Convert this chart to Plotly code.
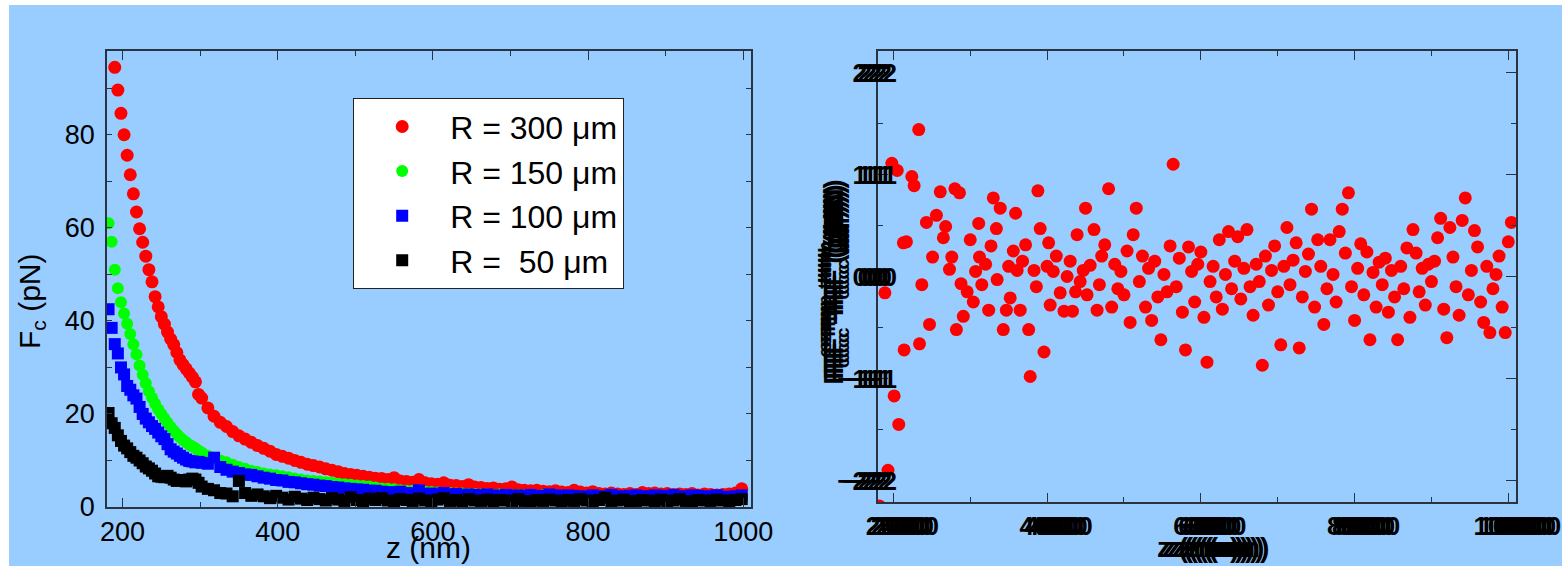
import plotly.graph_objects as go

W, H = 1562, 566
BG = "#99CCFF"
AX = "#2a3440"
FONT = "Liberation Sans, Arial, sans-serif"

# ---------------- data ----------------
Z = [182, 186, 190, 194, 198, 202, 206, 210, 214, 218, 222, 226, 230, 234, 238,
     242, 246, 250, 254, 258, 262, 266, 270, 274, 278, 282, 286, 290, 294, 298, 302,
     310, 318, 326, 334, 342, 350, 358, 366, 374, 382,
     390, 398, 406, 414, 422, 430, 438, 446, 454, 462,
     470, 478, 486, 494, 502, 510, 518, 526, 534, 542,
     550, 558, 566, 574, 582, 590, 598, 606, 614, 622,
     630, 638, 646, 654, 662, 670, 678, 686, 694, 702,
     710, 718, 726, 734, 742, 750, 758, 766, 774, 782,
     790, 798, 806, 814, 822, 830, 838, 846, 854, 862,
     870, 878, 886, 894, 902, 910, 918, 926, 934, 942,
     950, 958, 966, 974, 982, 990, 998]

F_R300 = [None, None, 94.5, 89.6, 84.6, 80.0, 75.6, 71.4, 67.3, 63.4, 59.8, 56.9, 53.9, 51.0, 48.4,
          45.2, 43.0, 40.9, 39.3, 37.6, 36.1, 34.9, 33.2, 31.6, 30.6, 29.7, 28.8, 27.9, 26.9, 24.2, 23.4,
          21.3, 19.5, 18.2, 17.3, 16.2, 15.3, 14.6, 13.9, 13.2, 12.6,
          12.0, 11.3, 10.9, 10.5, 10.0, 9.6, 9.2, 8.9, 8.6, 8.2,
          7.9, 7.6, 7.2, 7.0, 6.8, 6.6, 6.4, 6.2, 6.1, 5.9,
          6.3, 5.6, 5.5, 5.3, 5.9, 5.2, 5.0, 4.9, 5.2, 4.7,
          4.6, 4.4, 4.8, 4.3, 4.2, 4.0, 4.1, 3.8, 3.9, 4.3,
          3.7, 3.6, 3.5, 3.6, 3.4, 3.3, 3.5, 3.2, 3.1, 3.6,
          3.2, 3.0, 3.3, 2.9, 2.8, 3.0, 2.8, 2.7, 2.9, 2.7,
          3.1, 2.9, 3.0, 2.8, 2.9, 2.7, 2.8, 2.7, 2.9, 2.6,
          2.8, 2.7, 2.6, 2.7, 2.8, 3.0, 3.9]

F_R150 = [61.0, 57.0, 51.0, 47.0, 44.0, 41.6, 39.4, 37.2, 35.0, 32.8, 30.4, 28.4, 26.6, 24.9, 23.5,
          22.2, 21.0, 20.0, 19.0, 18.1, 17.2, 16.4, 15.7, 15.0, 14.4, 13.9, 13.4, 13.0, 12.6, 12.1, 11.7,
          11.0, 10.4, 10.0, 9.6, 9.1, 8.6, 8.2, 7.8, 7.5, 7.2,
          7.0, 6.8, 6.6, 6.4, 6.1, 5.9, 5.7, 5.6, 5.5, 5.3,
          5.2, 5.0, 4.9, 4.8, 4.6, 4.5, 4.4, 4.2, 4.0, 3.9,
          3.8, 3.6, 3.5, 3.5, 3.4, 3.3, 3.2, 3.1, 3.0, 3.0,
          2.9, 2.9, 2.8, 2.8, 2.7, 2.7, 2.6, 2.7, 2.6, 2.5,
          2.6, 2.5, 2.5, 2.4, 2.5, 2.4, 2.3, 2.4, 2.3, 2.3,
          2.2, 2.3, 2.2, 2.2, 2.1, 2.2, 2.1, 2.1, 2.0, 2.1,
          2.0, 2.0, 2.1, 1.9, 2.0, 1.9, 2.0, 1.9, 1.9, 1.8,
          1.9, 1.8, 1.9, 1.8, 1.8, 1.9, 1.8]

F_R100 = [42.5, 38.5, 35.0, 33.0, 30.0, 28.5, 26.0, 25.2, 24.0, 23.3, 21.5, 20.0, 19.0, 18.2, 17.4,
          16.8, 16.0, 15.2, 14.6, 13.5, 12.4, 11.9, 11.5, 11.0, 10.6, 10.2, 9.9, 9.8, 9.6, 9.7, 9.5,
          9.3, 10.6, 8.6, 8.0, 7.6, 7.3, 7.0, 6.9, 6.6, 6.3,
          6.1, 5.8, 5.7, 5.4, 5.3, 5.1, 4.9, 4.8, 4.6, 4.5,
          4.3, 4.2, 4.0, 3.9, 3.8, 3.7, 3.5, 3.5, 3.3, 3.2,
          3.1, 3.3, 3.0, 2.9, 3.6, 2.8, 2.9, 2.7, 3.0, 2.6,
          2.8, 2.5, 2.7, 2.6, 2.4, 2.7, 2.5, 2.3, 2.6, 2.4,
          2.5, 2.3, 2.6, 2.3, 2.4, 2.7, 2.5, 2.3, 2.5, 2.4,
          2.2, 2.3, 2.5, 2.2, 2.3, 2.6, 2.3, 2.2, 2.4, 2.5,
          2.2, 2.3, 2.5, 2.4, 2.2, 2.6, 2.3, 2.2, 2.5, 2.4,
          2.2, 2.3, 2.5, 2.2, 2.1, 2.3, 2.5]

F_R50 = [20.2, 18.0, 17.0, 15.4, 14.2, 13.2, 12.6, 11.8, 11.0, 10.6, 10.0, 9.4, 8.7, 8.3, 7.8,
         7.2, 6.6, 6.5, 6.4, 6.7, 6.3, 5.9, 5.6, 5.8, 5.7, 5.5, 5.9, 6.1, 5.9, 5.2, 4.4,
         3.9, 3.6, 3.0, 2.9, 2.3, 5.6, 3.0, 2.4, 2.7, 2.3,
         1.9, 2.4, 2.0, 1.6, 2.2, 1.8, 1.5, 2.0, 1.7, 1.4,
         1.9, 1.6, 1.3, 2.1, 1.5, 1.2, 1.8, 1.5, 1.9, 1.4,
         1.2, 1.7, 1.5, 1.3, 1.8, 1.4, 1.2, 1.6, 1.9, 1.3,
         1.5, 1.2, 1.7, 1.4, 1.3, 1.6, 1.2, 1.5, 1.4, 1.3,
         1.7, 1.3, 1.2, 1.5, 1.3, 1.6, 1.4, 1.2, 1.5, 1.3,
         1.7, 1.4, 1.2, 1.5, 2.0, 1.3, 1.4, 1.6, 1.2, 1.3,
         1.5, 1.4, 1.2, 1.6, 1.3, 1.4, 1.7, 1.3, 1.2, 1.5,
         1.4, 1.3, 1.6, 1.4, 1.2, 1.5, 1.7]

RES_Z = [182, 189, 193, 198, 201, 205, 207, 213, 214, 217, 224, 227, 233, 234, 237,
         243, 247, 251, 256, 261, 265, 268, 273, 276, 280, 282, 286, 288, 291, 296,
         300, 304, 307, 311, 312, 315, 320, 324, 327, 330, 334, 335, 339, 343, 347,
         350, 352, 356, 359, 361, 365, 368, 372, 376, 378, 383, 386, 388, 391, 396,
         400, 402, 404, 408, 412, 417, 422, 426, 430, 433, 437, 439, 443, 447, 450,
         452, 456, 461, 465, 468, 471, 475,
         480, 484, 488, 492, 496, 500, 504, 508, 512, 516,
         520, 524, 528, 532, 536, 540, 544, 548, 552, 556,
         560, 564, 568, 572, 576, 580, 584, 588, 592, 596,
         600, 604, 608, 612, 616, 620, 624, 628, 632, 636,
         640, 644, 648, 652, 656, 660, 664, 668, 672, 676,
         680, 684, 688, 692, 696, 700, 704, 708, 712, 716,
         720, 724, 728, 732, 736, 740, 744, 748, 752, 756,
         760, 764, 768, 772, 776, 780, 784, 788, 792, 796,
         800, 804, 808, 812, 816, 820, 824, 828, 832, 836,
         840, 844, 848, 852, 856, 860, 864, 868, 872, 876,
         880, 884, 888, 892, 896, 900, 904, 908, 912, 916,
         920, 924, 928, 932, 936, 940, 944, 948, 952, 956,
         960, 964, 968, 972, 976, 980, 984, 988, 992, 996,
         1000, 1004]

RES_V = [-2.25, -0.16, -1.90, 1.11, -1.17, 1.04, -1.45, 0.33, -0.72, 0.34, 0.98, 0.89, 1.44, -0.66, -0.08,
         0.53, -0.47, 0.19, 0.60, 0.83, 0.38, 0.49, 0.07, 0.19, 0.86, -0.52, 0.82, -0.07, -0.39, -0.15,
         0.36, -0.25, 0.05, 0.52, 0.19, -0.08, 0.12, -0.33, 0.30, 0.77, 0.47, -0.03, 0.67, -0.52, -0.33,
         0.10, -0.21, 0.25, 0.62, 0.06, -0.33, 0.15, 0.31, -0.52, -0.98, 0.06, -0.10, 0.84, 0.47, -0.74,
         0.10, 0.33, -0.28, 0.05, 0.20, -0.16, -0.34, 0.00, 0.15, -0.34, -0.15, 0.41, -0.05, 0.06, 0.67,
         -0.18, 0.11, 0.46, -0.33, -0.08, 0.20, 0.31,
         0.86, -0.30, 0.12, -0.12, 0.05, -0.18, 0.25, -0.45, 0.41, 0.67,
         -0.05, 0.20, -0.30, 0.08, -0.43, 0.15, -0.20, -0.62, 0.02, -0.15,
         0.30, 1.10, -0.10, 0.18, -0.35, -0.72, 0.29, 0.05, -0.25, 0.12,
         0.24, -0.40, -0.84, -0.05, 0.10, -0.20, 0.36, -0.32, 0.02, 0.44,
         -0.12, 0.15, 0.39, -0.22, 0.08, 0.46, -0.10, -0.38, 0.12, -0.05,
         -0.87, 0.20, -0.28, 0.06, 0.30, -0.15, -0.67, 0.10, 0.48, -0.08,
         0.16, 0.33, -0.70, -0.20, 0.05, 0.22, 0.66, -0.30, 0.36, 0.10,
         -0.47, -0.12, 0.36, 0.02, -0.25, 0.44, 0.66, 0.23, 0.82, -0.10,
         -0.43, 0.08, 0.32, -0.18, 0.24, -0.62, 0.04, -0.30, 0.14, -0.08,
         0.18, -0.35, 0.06, -0.20, -0.62, 0.10, -0.12, 0.28, -0.40, 0.46,
         0.23, -0.15, 0.08, -0.28, 0.12, -0.05, 0.15, 0.38, 0.57, -0.32,
         -0.60, 0.48, 0.19, -0.10, -0.38, 0.55, 0.77, -0.18, 0.06, 0.45,
         0.29, -0.25, -0.45, 0.10, -0.55, -0.12, 0.02, 0.20, -0.30, -0.55,
         0.34, 0.53]

SERIES_NAMES = ["R = 300 \u03bcm", "R = 150 \u03bcm", "R = 100 \u03bcm", "R = \u00a050 \u03bcm"]
SERIES_COLORS = ["#FF0000", "#00FF00", "#0000FF", "#000000"]
SERIES_SYMBOLS = ["circle", "circle", "square", "square"]
SERIES_SIZES = [13, 12, 12, 12]

X_TICKS = [200, 400, 600, 800, 1000]
Y1_TICKS = [0, 20, 40, 60, 80]
Y2_TICKS = [-2, -1, 0, 1, 2]

X_TITLE = "z (nm)"
Y1_TITLE = "F<sub>c</sub> (pN)"
Y2_TITLE = "F<sub>c</sub><sup>exp</sup>-F<sub>c</sub><sup>th</sup> (pN)"

# ---------------- figure ----------------
fig = go.Figure()
for vals, name, col, sym, sz in zip([F_R300, F_R150, F_R100, F_R50], SERIES_NAMES,
                                    SERIES_COLORS, SERIES_SYMBOLS, SERIES_SIZES):
    fig.add_trace(go.Scatter(x=Z, y=vals, mode="markers", name=name,
                             marker=dict(symbol=sym, size=sz, color=col, line=dict(width=0)),
                             xaxis="x", yaxis="y"))

fig.add_trace(go.Scatter(x=RES_Z, y=RES_V, mode="markers", showlegend=False,
                         marker=dict(symbol="circle", size=13, color="#FF0000", line=dict(width=0)),
                         xaxis="x2", yaxis="y2"))

# smeared (horizontally stretched-looking) text for the right panel
SH = ", ".join("%dpx 0px 0px black" % d for d in (5, 10, 15, 20, 25, 30))
tick_font = dict(family=FONT, size=27, color="black")
tick_font2 = dict(family=FONT, size=26, color="black", weight="bold", shadow=SH)

common_x = dict(range=[180, 1010], showline=True, linecolor=AX, linewidth=1.5, mirror="allticks",
                ticks="inside", ticklen=9, tickwidth=1.3, tickcolor=AX, tickvals=X_TICKS,
                showgrid=False, zeroline=False, automargin=False,
                minor=dict(ticks="inside", ticklen=5, tickwidth=1.3, tickcolor=AX, dtick=100, tick0=0))

fig.update_layout(
    width=W, height=H, autosize=False,
    margin=dict(l=0, r=0, t=0, b=0, pad=0, autoexpand=False),
    paper_bgcolor=BG, plot_bgcolor=BG,
    font=dict(family=FONT, color="black"),
    showlegend=True,
    xaxis=dict(domain=[107 / W, 751 / W], anchor="y", tickfont=tick_font,
               ticklabelstandoff=0, **common_x),
    yaxis=dict(domain=[(H - 507) / H, (H - 51) / H], anchor="x", range=[0, 98],
               showline=True, linecolor=AX, linewidth=1.5, mirror="allticks",
               ticks="inside", ticklen=5, tickwidth=1.3, tickcolor=AX, tickvals=Y1_TICKS,
               showgrid=False, zeroline=False, tickfont=tick_font, ticklabelstandoff=5,
               automargin=False,
               minor=dict(ticks="inside", ticklen=5, tickwidth=1.3, tickcolor=AX, dtick=10, tick0=0)),
    xaxis2=dict(domain=[878 / W, 1516 / W], anchor="y2", tickfont=tick_font2,
                ticklabelstandoff=0, ticklabelshift=-6, **common_x),
    yaxis2=dict(domain=[(H - 502) / H, (H - 51) / H], anchor="x2", range=[-2.21, 2.21],
                showline=True, linecolor=AX, linewidth=1.8, mirror="allticks",
                ticks="inside", ticklen=10, tickwidth=1.3, tickcolor=AX, tickvals=Y2_TICKS,
                showgrid=False, zeroline=False, tickfont=tick_font2, ticklabelstandoff=4,
                automargin=False,
                minor=dict(ticks="inside", ticklen=5, tickwidth=1.3, tickcolor=AX, dtick=0.5, tick0=0)),
    legend=dict(x=353 / W, y=(H - 98) / H, xanchor="left", yanchor="top",
                bgcolor="white", bordercolor="#222222", borderwidth=1.2,
                font=dict(family=FONT, size=32, color="black"),
                itemwidth=86, tracegroupgap=0),
    shapes=[
        dict(type="rect", xref="paper", yref="paper", x0=0, x1=9 / W, y0=0, y1=1,
             fillcolor="white", line=dict(width=0), layer="below"),
        dict(type="rect", xref="paper", yref="paper", x0=0, x1=1, y0=1 - 5 / H, y1=1,
             fillcolor="white", line=dict(width=0), layer="below"),
    ],
    annotations=[
        dict(text=X_TITLE, xref="paper", yref="paper", x=428 / W, y=(H - 547) / H,
             xanchor="center", yanchor="middle", showarrow=False,
             font=dict(family=FONT, size=30, color="black")),
        dict(text=Y1_TITLE, xref="paper", yref="paper", x=31 / W, y=(H - 301) / H,
             xanchor="center", yanchor="middle", showarrow=False, textangle=-90,
             font=dict(family=FONT, size=30, color="black")),
        dict(text=X_TITLE, xref="paper", yref="paper", x=1155 / W, y=(H - 547) / H,
             xanchor="left", yanchor="middle", showarrow=False,
             font=dict(family=FONT, size=28, color="black", weight="bold", shadow=SH)),
        dict(text=Y2_TITLE, xref="paper", yref="paper", x=833 / W, y=(H - 387) / H,
             xanchor="center", yanchor="bottom", showarrow=False, textangle=-90,
             font=dict(family=FONT, size=27, color="black", weight="bold", shadow=SH)),
    ],
)

fig.write_html(
    "out.html",
    config={"displayModeBar": False},
    post_script="document.body.style.margin='0';"
                "document.body.style.padding='0';"
                "document.body.style.background='white';"
                "document.documentElement.style.overflow='hidden';"
                "document.body.style.overflow='hidden';",
)
